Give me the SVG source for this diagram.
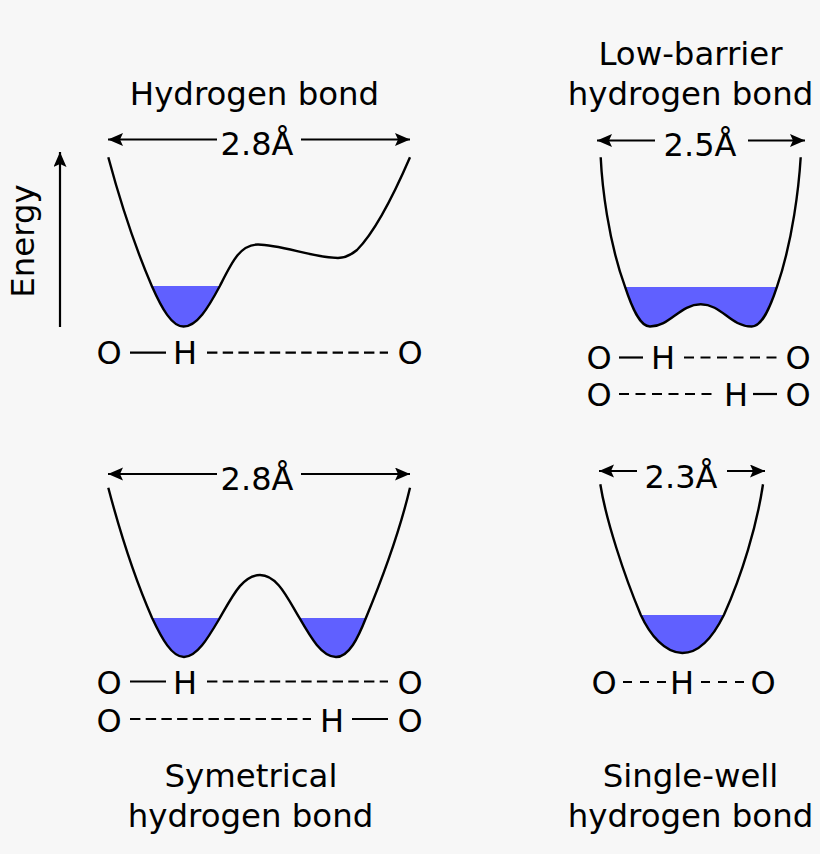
<svg xmlns="http://www.w3.org/2000/svg" width="820" height="854" viewBox="0 0 820 854">
<style>
text{font-family:"DejaVu Sans","Liberation Sans",sans-serif;font-size:32px;fill:#000;text-anchor:middle}
text.t{font-size:32.4px}
.c{fill:none;stroke:#000;stroke-width:2.4}
.w{fill:#6060ff;stroke:none}
.a{fill:none;stroke:#000;stroke-width:2.2;marker-end:url(#h)}
.s{fill:none;stroke:#000;stroke-width:2.2}
.d{fill:none;stroke:#000;stroke-width:2.2;stroke-dasharray:10.4 5.3}
.d2{fill:none;stroke:#000;stroke-width:2.2;stroke-dasharray:10 6.5}
.d3{fill:none;stroke:#000;stroke-width:2.2;stroke-dasharray:9 8}
</style>
<defs>
<marker id="h" markerUnits="userSpaceOnUse" markerWidth="16" markerHeight="14" refX="15" refY="6.5" orient="auto"><path d="M0 0L15 6.5L0 13L3 6.5Z" fill="#000"/></marker>
<clipPath id="k1"><rect x="130" y="286" width="110" height="50"/></clipPath>
<clipPath id="k2"><rect x="610" y="287" width="180" height="50"/></clipPath>
<clipPath id="k3"><rect x="130" y="618" width="270" height="50"/></clipPath>
<clipPath id="k4"><rect x="620" y="615" width="120" height="50"/></clipPath>
</defs>
<rect width="820" height="854" fill="#f7f7f7"/>
<g id="energy-axis">
<text class="t" transform="translate(34 241) rotate(-90)">Energy</text>
<path class="a" d="M60 327V152"/>
</g>
<g id="hydrogen-bond">
<text class="t" x="254.5" y="105">Hydrogen bond</text>
<text x="257" y="155">2.8Å</text>
<path class="w" clip-path="url(#k1)" d="M108.3 157.3C116 186 132 240 151.7 285.7C162 309 172 326.5 183.5 326.5C197 326.5 208 308 220 285.7C232 262 240 244.5 258 244.5C280 244.5 315 258 338 258C346 258 351 255 357 250C375 232 395 192 410 157.3Z"/>
<path class="c" d="M108.3 157.3C116 186 132 240 151.7 285.7C162 309 172 326.5 183.5 326.5C197 326.5 208 308 220 285.7C232 262 240 244.5 258 244.5C280 244.5 315 258 338 258C346 258 351 255 357 250C375 232 395 192 410 157.3"/>
<text x="109" y="364">O</text><text x="185" y="364">H</text><text x="410" y="364">O</text>
</g>
<g id="low-barrier-hydrogen-bond">
<text class="t" x="690.5" y="64.500">Low-barrier</text>
<text class="t" x="690.5" y="105">hydrogen bond</text>
<text x="700" y="156">2.5Å</text>
<path class="w" clip-path="url(#k2)" d="M600.7 157.3C602 185 608 240 625 286.7C632 308 640 326.5 650 326.5C670 326.5 680 304.3 700.7 304.3C722 304.3 730 326.5 751.7 326.5C762 326.5 770 308 777 286.7C793 240 799 185 800.7 157.3Z"/>
<path class="c" d="M600.7 157.3C602 185 608 240 625 286.7C632 308 640 326.5 650 326.5C670 326.5 680 304.3 700.7 304.3C722 304.3 730 326.5 751.7 326.5C762 326.5 770 308 777 286.7C793 240 799 185 800.7 157.3"/>
<text x="599" y="369">O</text><text x="663" y="369">H</text><text x="798" y="369">O</text>
<text x="599" y="406">O</text><text x="736" y="406">H</text><text x="798" y="406">O</text>
</g>
<g id="symmetrical-hydrogen-bond">
<text class="t" x="251" y="787">Symetrical</text>
<text class="t" x="250.500" y="827">hydrogen bond</text>
<text x="257" y="490">2.8Å</text>
<path class="w" clip-path="url(#k3)" d="M108.3 487.7C116 517 132 572 152 617.7C162 639 172 657 184 657C197 657 208 638 220 617.7C233 595 243 575 260 575C277 575 287 597 299.3 617.7C311 638 322 657 336 657C349 657 358 638 366 617.7C385 572 400 530 410 487.7Z"/>
<path class="c" d="M108.3 487.7C116 517 132 572 152 617.7C162 639 172 657 184 657C197 657 208 638 220 617.7C233 595 243 575 260 575C277 575 287 597 299.3 617.7C311 638 322 657 336 657C349 657 358 638 366 617.7C385 572 400 530 410 487.7"/>
<text x="109" y="694">O</text><text x="185" y="694">H</text><text x="410" y="694">O</text>
<text x="109" y="732">O</text><text x="332" y="732">H</text><text x="410" y="732">O</text>
</g>
<g id="single-well-hydrogen-bond">
<text class="t" x="690.5" y="787">Single-well</text>
<text class="t" x="690.5" y="827">hydrogen bond</text>
<text x="681" y="488">2.3Å</text>
<path class="w" clip-path="url(#k4)" d="M600.3 484.3C606 520 624 575 640.7 614.7C650 635 665 653 682.3 653C700 653 714 635 724 614.7C742 575 757 525 763 484.3Z"/>
<path class="c" d="M600.3 484.3C606 520 624 575 640.7 614.7C650 635 665 653 682.3 653C700 653 714 635 724 614.7C742 575 757 525 763 484.3"/>
<text x="604" y="694">O</text><text x="682" y="694">H</text><text x="763" y="694">O</text>
</g>
<g id="connectors">
<path class="a" d="M217 139.5H108"/><path class="a" d="M301 139.5H410"/>
<path class="a" d="M655 140.5H597"/><path class="a" d="M748 140.5H805"/>
<path class="a" d="M217 474H108"/><path class="a" d="M301 474H410"/>
<path class="a" d="M637 471H599"/><path class="a" d="M727 471H765"/>
<path class="s" d="M130 352.7H166"/><path class="d" d="M207 352.7H388"/>
<path class="s" d="M619 357.5H643"/><path class="d2" d="M684 357.5H777"/>
<path class="d2" d="M619 394H712"/><path class="s" d="M753 394H777"/>
<path class="s" d="M130 681.5H166"/><path class="d" d="M207 681.5H388"/>
<path class="d" d="M130 719H311"/><path class="s" d="M352 719H388"/>
<path class="d3" d="M623 682H666"/><path class="d3" d="M701 682H745"/>
</g>
</svg>
